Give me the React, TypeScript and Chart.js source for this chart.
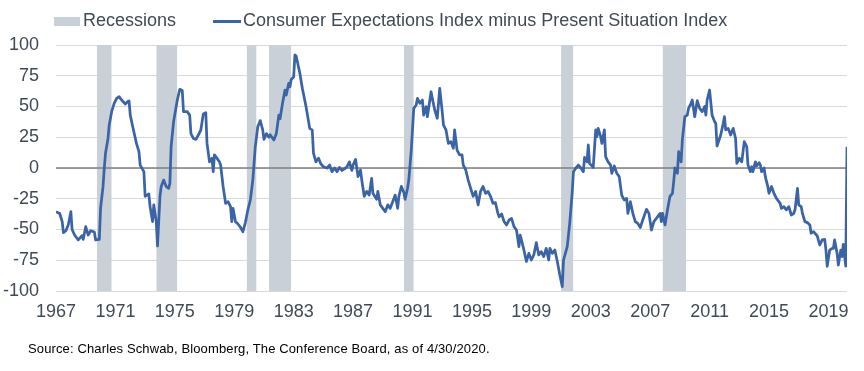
import React, { useEffect, useRef } from "react";
import { Chart, registerables } from "chart.js";

Chart.register(...registerables);

const FONT = "'Liberation Sans', Arial, sans-serif";

const seriesLabel = "Consumer Expectations Index minus Present Situation Index";
const recessionLabel = "Recessions";
const sourceText = "Source: Charles Schwab, Bloomberg, The Conference Board, as of 4/30/2020.";

const dates = [
  "1967-01","1967-04","1967-06","1967-07","1967-09","1967-11","1968-01","1968-02","1968-04","1968-07","1968-10","1968-11",
  "1969-01","1969-03","1969-05","1969-08","1969-09","1969-12","1970-01","1970-03","1970-04","1970-05","1970-07","1970-08",
  "1970-10","1970-12","1971-02","1971-04","1971-06","1971-09","1971-11","1971-12","1972-01","1972-03","1972-06","1972-08",
  "1972-09","1972-12","1973-01","1973-04","1973-05","1973-07","1973-08","1973-10","1973-11","1974-01","1974-02","1974-04",
  "1974-06","1974-08","1974-09","1974-10","1974-12","1975-03","1975-05","1975-07","1975-08","1975-11","1976-01","1976-02",
  "1976-04","1976-06","1976-08","1976-10","1976-12","1977-02","1977-03","1977-05","1977-07","1977-08","1977-09","1977-11",
  "1978-01","1978-02","1978-04","1978-06","1978-08","1978-10","1978-11","1978-12","1979-02","1979-04","1979-06","1979-08",
  "1979-10","1979-12","1980-02","1980-04","1980-06","1980-08","1980-10","1980-12","1981-01","1981-03","1981-05","1981-06",
  "1981-09","1981-11","1982-01","1982-02","1982-04","1982-06","1982-07","1982-09","1982-10","1982-11","1983-01","1983-02",
  "1983-03","1983-06","1983-08","1983-11","1984-02","1984-04","1984-05","1984-07","1984-09","1984-11","1985-01","1985-04",
  "1985-06","1985-08","1985-10","1985-12","1986-02","1986-04","1986-07","1986-08","1986-10","1986-12","1987-01","1987-03",
  "1987-05","1987-07","1987-08","1987-10","1987-12","1988-02","1988-04","1988-05","1988-08","1988-09","1988-11","1989-01",
  "1989-03","1989-05","1989-07","1989-09","1989-11","1990-01","1990-02","1990-04","1990-06","1990-07","1990-09","1990-10",
  "1990-12","1991-02","1991-04","1991-05","1991-07","1991-09","1991-10","1991-12","1992-01","1992-04","1992-05","1992-07",
  "1992-09","1992-11","1993-01","1993-02","1993-04","1993-06","1993-08","1993-10","1993-11","1994-01","1994-03","1994-05",
  "1994-06","1994-08","1994-10","1994-12","1995-02","1995-04","1995-06","1995-08","1995-10","1995-12","1996-02","1996-04",
  "1996-06","1996-08","1996-10","1996-11","1997-01","1997-03","1997-05","1997-07","1997-09","1997-11","1998-01","1998-03",
  "1998-04","1998-05","1998-07","1998-09","1998-11","1999-01","1999-03","1999-05","1999-07","1999-09","1999-11","2000-01",
  "2000-03","2000-04","2000-06","2000-08","2000-10","2000-12","2001-02","2001-03","2001-06","2001-08","2001-10","2001-11",
  "2002-01","2002-03","2002-05","2002-07","2002-08","2002-10","2002-11","2002-12","2003-03","2003-05","2003-06","2003-07",
  "2003-09","2003-10","2003-12","2004-01","2004-03","2004-05","2004-06","2004-08","2004-10","2004-12","2005-02","2005-04",
  "2005-06","2005-07","2005-09","2005-11","2006-01","2006-03","2006-05","2006-07","2006-10","2006-12","2007-01","2007-02",
  "2007-04","2007-06","2007-09","2007-10","2007-11","2008-01","2008-03","2008-05","2008-07","2008-08","2008-09","2008-11",
  "2008-12","2009-02","2009-03","2009-05","2009-07","2009-08","2009-10","2009-11","2010-01","2010-03","2010-05","2010-07",
  "2010-09","2010-10","2010-11","2011-01","2011-03","2011-05","2011-06","2011-07","2011-10","2011-12","2012-01","2012-02",
  "2012-04","2012-06","2012-08","2012-10","2012-11","2013-01","2013-03","2013-05","2013-07","2013-08","2013-10","2013-11",
  "2013-12","2014-02","2014-03","2014-05","2014-06","2014-07","2014-09","2014-10","2014-12","2015-01","2015-03","2015-05",
  "2015-07","2015-10","2015-11","2016-01","2016-03","2016-05","2016-07","2016-09","2016-10","2016-12","2017-01","2017-03",
  "2017-04","2017-06","2017-08","2017-10","2017-11","2018-01","2018-02","2018-04","2018-06","2018-08","2018-10","2018-11",
  "2018-12","2019-02","2019-04","2019-05","2019-06","2019-08","2019-09","2019-11","2019-12","2020-01","2020-03","2020-04"
];

const values = [
  -35.5,-37,-43.6,-52.6,-51,-46,-35.5,-50,-54.5,-58.5,-55,-58,
  -47.7,-54.5,-51,-52,-58.5,-58,-32.8,-15,0,12,24,35,
  46,52.6,56.6,58,55.3,52,54,54.5,43,33.6,20,13.3,
  2.4,-3,-23,-21,-31.4,-43.6,-30,-43.6,-63.4,-23,-15,-9.8,
  -15,-16.5,-12.5,17.3,37.7,55.3,64,63,45.8,45.8,43,28,
  24,23.3,26.8,31,44,45,20,5,8,-3,10.6,8,
  5,2.4,-15,-28.7,-27.4,-31.4,-43.6,-32.8,-43.6,-45.5,-48.2,-51.8,
  -44.4,-34,-26,-9.8,17.3,33.6,38.5,31,23.3,28,25,27,
  22.8,28,43,40,52.6,63.4,59.3,68.8,66,72,74,91.9,
  91,77,64.8,49.9,32,31,12,5,8,3.3,1,0,
  2.4,-3,0,-3,0.5,-2,0,1,5,-2,2.4,7,
  -7,-1.6,-9.8,-23,-19,-22,-8.4,-20.6,-25.5,-19,-30,-32.8,
  -35.5,-30,-32.8,-27.4,-22,-32.8,-23,-15,-20,-25.5,-16.5,-9.8,
  14.6,48.5,51.2,56.6,52.6,55.3,43,49.9,41.7,62,56.6,47,
  40.4,64.8,45.8,35,31,20,21.4,16,31,14.6,10.6,10.6,
  2.4,-1.6,-9.8,-16.5,-23,-19,-30,-19,-15,-20.6,-19,-23,
  -28.7,-28.2,-36.9,-39.6,-37.4,-43.6,-46.3,-42.3,-41,-47.7,-50.4,-64,
  -54.5,-58.5,-66.7,-76,-69.4,-74.8,-70.7,-60.7,-70.7,-68,-72,-65.3,
  -74.8,-65.3,-69.4,-66.7,-76,-87,-96.5,-74.8,-64,-45,-20,-3,
  0,2.4,0,-3,8.7,5,18.7,3.8,0.5,31,25.5,32.2,
  25.5,20,31,9.2,5,2.4,-4.3,1.6,-4.3,-7,-22,-26,
  -24.7,-36.9,-27.4,-36.9,-43.6,-45,-48.5,-42.3,-33.6,-36.9,-43.6,-50.4,
  -43.6,-41,-36.9,-43.6,-36.9,-46.3,-34,-23,-20.6,-11,0,-4.3,
  13.3,5,22.8,41.7,43,48.5,52.6,55.3,41.7,54.7,48.5,45.8,
  50,43,55.3,63.4,43,37.7,36.3,17.9,26.8,36.3,41.7,31,
  32.2,26.8,32.2,24,3.8,7.9,5,21.4,17.3,2.4,-3,1,
  -3,5,1.6,4.3,2.4,-3,0,-7,-15,-20.6,-15,-20.6,
  -24.7,-28.7,-32.8,-31.4,-34,-31.4,-38.2,-36.9,-34,-16.5,-30,-31.4,
  -36.9,-43.6,-44.4,-46.3,-53,-51.8,-53,-55.3,-62.6,-58.5,-58,-66.7,
  -80,-66.7,-65.3,-65.3,-58.5,-69.4,-78.9,-66.7,-72,-62,-79.7,17.3
];

const recessionStarts = ["1969-10","1973-10","1979-11","1981-05","1990-06","2001-01","2007-11"];
const recessionEnds = ["1970-10","1975-03","1980-07","1982-11","1991-02","2001-11","2009-06"];

const xTickYears = [1967,1971,1975,1979,1983,1987,1991,1995,1999,2003,2007,2011,2015,2019];
const xMin = "1967-01";
const xMax = "2020-04";
const yMin = -100;
const yMax = 100;
const yStep = 25;

const LINE_COLOR = "#3b64a6";
const RECESSION_COLOR = "#c9d0d8";
const TEXT_COLOR = "#404a57";

function toYear(d: string): number {
  const [y, m] = d.split("-").map(Number);
  return y + (m - 1) / 12;
}

const zeroLinePlugin = {
  id: "zeroLine",
  afterDatasetDraw(chart: any, args: any) {
    if (args.index !== 0) return;
    const { ctx, chartArea, scales } = chart;
    const y = scales.y.getPixelForValue(0);
    ctx.save();
    ctx.strokeStyle = "#7f7f7f";
    ctx.lineWidth = 1.5;
    ctx.beginPath();
    ctx.moveTo(chartArea.left, y);
    ctx.lineTo(chartArea.right, y);
    ctx.stroke();
    ctx.restore();
  },
};

export default function App() {
  const canvasRef = useRef<HTMLCanvasElement | null>(null);

  useEffect(() => {
    if (!canvasRef.current) return;
    const recessionData: any[] = [];
    recessionStarts.forEach((s, i) => {
      recessionData.push({ x: toYear(s), y: yMax });
      recessionData.push({ x: toYear(recessionEnds[i]), y: yMax });
      recessionData.push({ x: toYear(recessionEnds[i]), y: null });
    });
    const lineData = dates.map((d, i) => ({ x: toYear(d), y: values[i] }));

    const chart = new Chart(canvasRef.current, {
      type: "line",
      data: {
        datasets: [
          {
            label: recessionLabel,
            data: recessionData,
            borderWidth: 0,
            borderColor: "rgba(0,0,0,0)",
            backgroundColor: RECESSION_COLOR,
            pointRadius: 0,
            fill: "start",
            spanGaps: false,
            order: 2,
          },
          {
            label: seriesLabel,
            data: lineData,
            borderColor: LINE_COLOR,
            borderWidth: 2.75,
            pointRadius: 0,
            fill: false,
            tension: 0,
            borderJoinStyle: "round",
            order: 1,
          },
        ],
      },
      options: {
        animation: false,
        responsive: true,
        maintainAspectRatio: false,
        layout: { padding: { top: 45, right: 17, bottom: 0, left: 3 } },
        plugins: {
          legend: { display: false },
          tooltip: { enabled: false },
        },
        scales: {
          x: {
            type: "linear",
            min: toYear(xMin),
            max: toYear(xMax),
            grid: { display: false, drawTicks: false },
            border: { display: false },
            afterBuildTicks: (scale: any) => {
              scale.ticks = xTickYears.map((v) => ({ value: v }));
            },
            afterFit: (scale: any) => {
              scale.height = 80;
            },
            ticks: {
              autoSkip: false,
              maxRotation: 0,
              padding: 10,
              color: TEXT_COLOR,
              font: { family: FONT, size: 18 },
              callback: (v: any) => String(v),
            },
          },
          y: {
            min: yMin,
            max: yMax,
            grid: { color: "#d9d9d9", lineWidth: 1, drawTicks: false },
            border: { display: false },
            afterFit: (scale: any) => {
              scale.width = 53;
            },
            ticks: {
              stepSize: yStep,
              padding: 17,
              color: TEXT_COLOR,
              font: { family: FONT, size: 18 },
              callback: (v: any) => String(v),
            },
          },
        },
      },
      plugins: [zeroLinePlugin],
    });
    return () => chart.destroy();
  }, []);

  return (
    <div style={{ position: "fixed", left: 0, top: 0, width: 864, height: 371, background: "#fff", fontFamily: FONT }}>
      <div style={{ position: "absolute", left: 0, top: 0, width: 864, height: 371 }}>
        <canvas ref={canvasRef} />
      </div>
      <div style={{ position: "absolute", left: 54, top: 17, width: 26, height: 9, background: RECESSION_COLOR }} />
      <div style={{ position: "absolute", left: 83, top: 11, fontSize: 18, lineHeight: "18px", color: TEXT_COLOR, whiteSpace: "nowrap" }}>
        {recessionLabel}
      </div>
      <div style={{ position: "absolute", left: 213, top: 19.5, width: 28, height: 3, background: LINE_COLOR }} />
      <div style={{ position: "absolute", left: 243, top: 11, fontSize: 18, lineHeight: "18px", color: TEXT_COLOR, whiteSpace: "nowrap" }}>
        {seriesLabel}
      </div>
      <div style={{ position: "absolute", left: 28, top: 342, fontSize: 13, lineHeight: "13px", letterSpacing: "0.13px", color: "#000", whiteSpace: "nowrap" }}>
        {sourceText}
      </div>
    </div>
  );
}
